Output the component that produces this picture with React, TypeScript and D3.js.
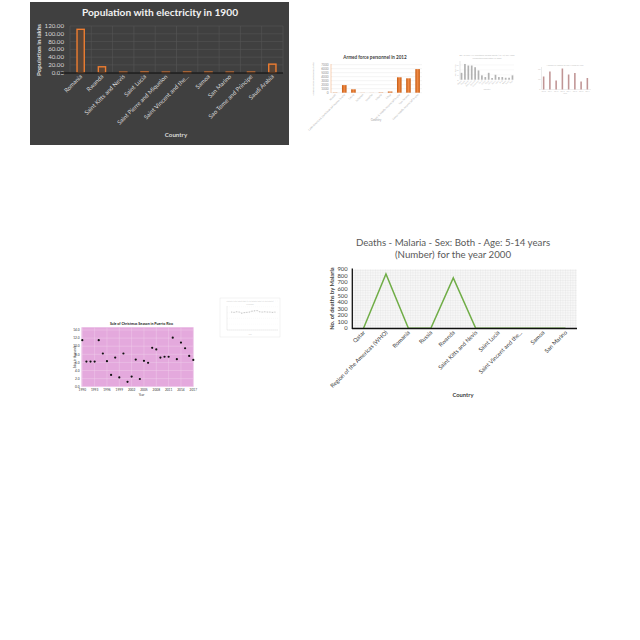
import React from "react";
import * as d3 from "d3";

const FONT = "Lato, 'Open Sans', sans-serif";

// --- population with electricity (dark chart)
const elecCountries = ["Romania", "Rwanda", "Saint Kitts and Nevis", "Saint Lucia", "Saint Pierre and Miquelon", "Saint Vincent and the...", "Samoa", "San Marino", "Sao Tome and Principe", "Saudi Arabia"];
const elecValues = [111.5, 15.2, 1.2, 1.6, 1.3, 1.5, 1.4, 1.3, 1.4, 22.0];
const elecTicks = [0, 20, 40, 60, 80, 100, 120];

// --- armed forces personnel
const armedCountries = ["Kuwait", "Latin America & Caribbean (all income levels)", "Latvia", "Lebanon", "Lesotho", "Liberia", "Libya", "Low & middle income (all levels)", "Low income", "Lower middle income (all levels)"];
const armedValues = [60, 1900, 850, 30, 20, 80, 300, 3850, 3600, 5900];
const armedTicks = [0, 1000, 2000, 3000, 4000, 5000, 6000, 7000];

// --- grey bar chart
const greyCountries = ["Algeria", "Angola", "Benin", "Botswana", "Burundi", "Cameroon", "Chad", "Congo", "Egypt", "Ghana", "Kenya", "Libya", "Mali", "Niger", "Sudan", "Togo"];
const greyValues = [7, 16, 14.4, 14.4, 12.7, 9.4, 4.4, 2.7, 7, 1.7, 5, 2.7, 2.7, 2, 2, 4.4];
const greyTicks = [0, 5, 10, 15];

// --- mauve bar chart
const mauveYears = ["2010", "2011", "2012", "2013", "2014", "2015", "2016", "2017"];
const mauveValues = [13, 18, 9, 21, 15, 16.5, 8, 11.5];
const mauveTicks = [0, 10, 20];

// --- scatter
const saleYears = [1990, 1991, 1992, 1993, 1994, 1995, 1996, 1997, 1998, 1999, 2000, 2001, 2002, 2003, 2004, 2005, 2006, 2007, 2008, 2009, 2010, 2011, 2012, 2013, 2014, 2015, 2016, 2017];
const saleValues = [11.5, 6.2, 6.2, 6.2, 11.5, 8.2, 6.3, 2.9, 7.2, 2.3, 8.2, 1.2, 2.5, 6.7, 1.9, 6.4, 5.9, 9.6, 9.2, 7.2, 7.4, 7.4, 12.1, 6.8, 10.9, 9.5, 7.6, 6.6];
const saleYTicks = [0, 2, 4, 6, 8, 10, 12, 14];
const saleXTicks = [1990, 1993, 1996, 1999, 2002, 2005, 2008, 2011, 2014, 2017];

// --- faint line chart
const faintYears = [1996, 1997, 1998, 1999, 2000, 2001, 2002, 2003, 2004, 2005, 2006, 2007, 2008, 2009, 2010, 2011, 2012, 2013];
const faintValues = [62, 61, 63, 62, 58, 60, 61, 62, 65, 66, 67, 63, 62, 63, 62, 62, 61, 62];

// --- malaria deaths
const malariaCountries = ["Qatar", "Region of the Americas (WHO)", "Romania", "Russia", "Rwanda", "Saint Kitts and Nevis", "Saint Lucia", "Saint Vincent and the...", "Samoa", "San Marino"];
const malariaValues = [0, 830, 0, 0, 770, 0, 0, 0, 0, 0];
const malariaTicks = [0, 100, 200, 300, 400, 500, 600, 700, 800, 900];

function ElectricityChart() {
  const x = d3.scaleBand().domain(elecCountries).range([70, 283]);
  const y = d3.scaleLinear().domain([0, 120]).range([72.7, 26]);
  const bw = x.bandwidth() * 0.34;
  return (
    <g fontFamily={FONT}>
      <rect x={30} y={2} width={259} height={143} fill="#404040" />
      <text x={160} y={16} textAnchor="middle" fill="#f2f2f2" fontSize={10.2} fontWeight="bold">Population with electricity in 1900</text>
      {elecTicks.map((t) => (
        <g key={t}>
          <line x1={70} x2={283} y1={y(t)} y2={y(t)} stroke="#555" strokeWidth={0.6} />
          <text x={64} y={y(t) + 2} textAnchor="end" fill="#d9d9d9" fontSize={6.2}>{t.toFixed(2)}</text>
        </g>
      ))}
      {elecCountries.map((c) => (
        <line key={c} x1={x(c)} x2={x(c)} y1={26} y2={72.7} stroke="#555" strokeWidth={0.6} />
      ))}
      <line x1={283} x2={283} y1={26} y2={72.7} stroke="#555" strokeWidth={0.6} />
      {elecCountries.map((c, i) => (
        <rect key={c} x={x(c)! + x.bandwidth() / 2 - bw / 2} y={y(elecValues[i])} width={bw} height={y(0) - y(elecValues[i])} fill="#5a4536" stroke="#ed7d31" strokeWidth={1.4} />
      ))}
      <line x1={60} x2={283} y1={73} y2={73} stroke="#1c1c1c" strokeWidth={1.5} />
      {elecCountries.map((c) => (
        <text key={c} transform={`translate(${x(c)! + x.bandwidth() / 2 + 2},${77}) rotate(-45)`} textAnchor="end" fill="#d9d9d9" fontSize={6}>{c}</text>
      ))}
      <text transform="translate(41,50) rotate(-90)" textAnchor="middle" fill="#d9d9d9" fontSize={6.2} fontWeight="bold">Population in lakhs</text>
      <text x={176} y={137} textAnchor="middle" fill="#d9d9d9" fontSize={6.2} fontWeight="bold">Country</text>
    </g>
  );
}

function ArmedChart() {
  const x = d3.scaleBand().domain(armedCountries).range([330.5, 422.2]).paddingInner(0.5).paddingOuter(0.25);
  const y = d3.scaleLinear().domain([0, 7000]).range([92.7, 64.7]);
  return (
    <g fontFamily={FONT}>
      <defs>
        <linearGradient id="orangeGrad" x1="0" x2="1" y1="0" y2="0">
          <stop offset="0" stopColor="#c55a11" />
          <stop offset="0.5" stopColor="#f08a45" />
          <stop offset="1" stopColor="#c55a11" />
        </linearGradient>
      </defs>
      <text x={375} y={58.5} textAnchor="middle" fill="#404040" fontSize={4.6} fontWeight="bold">Armed force personnel in 2012</text>
      {armedTicks.map((t) => (
        <g key={t}>
          <line x1={331} x2={422} y1={y(t)} y2={y(t)} stroke="#e3e3e3" strokeWidth={0.4} />
          <text x={328.5} y={y(t) + 1.1} textAnchor="end" fill="#8c8c8c" fontSize={3.1}>{t}</text>
        </g>
      ))}
      <line x1={331} x2={331} y1={64} y2={93} stroke="#f4b183" strokeWidth={0.6} />
      {armedCountries.map((c, i) => (
        <rect key={c} x={x(c)} y={y(armedValues[i])} width={x.bandwidth()} height={y(0) - y(armedValues[i])} fill="url(#orangeGrad)" />
      ))}
      {armedCountries.map((c) => (
        <text key={c} transform={`translate(${x(c)! + x.bandwidth() / 2 + 1},${95}) rotate(-45)`} textAnchor="end" fill="#a6a6a6" fontSize={2.6}>{c}</text>
      ))}
      <text transform="translate(314,79) rotate(-90)" textAnchor="middle" fill="#a6a6a6" fontSize={2.6}>Armed forces personnel, total</text>
      <text x={376} y={121} textAnchor="middle" fill="#a6a6a6" fontSize={3}>Country</text>
    </g>
  );
}

function GreyBarChart() {
  const x = d3.scaleBand().domain(greyCountries).range([460, 514]).paddingInner(0.5).paddingOuter(0.2);
  const y = d3.scaleLinear().domain([0, 18]).range([79.7, 62]);
  return (
    <g fontFamily={FONT}>
      <text x={487} y={55.5} textAnchor="middle" fill="#bfbfbf" fontSize={2.2}>No. of new HIV infections among adults (15-49) per 1000</text>
      <text x={487} y={58.5} textAnchor="middle" fill="#bfbfbf" fontSize={2.2}>uninfected population in 2005</text>
      {greyTicks.map((t) => (
        <g key={t}>
          <line x1={460} x2={514} y1={y(t)} y2={y(t)} stroke="#ececec" strokeWidth={0.3} />
          <text x={458.5} y={y(t) + 0.8} textAnchor="end" fill="#bfbfbf" fontSize={2.2}>{t}</text>
        </g>
      ))}
      <line x1={460} x2={460} y1={61} y2={79.7} stroke="#bfbfbf" strokeWidth={0.4} />
      {greyCountries.map((c, i) => (
        <rect key={c} x={x(c)} y={y(greyValues[i])} width={x.bandwidth()} height={y(0) - y(greyValues[i])} fill="#b3b3b3" />
      ))}
      {greyCountries.map((c) => (
        <text key={c} transform={`translate(${x(c)! + x.bandwidth() / 2 + 0.5},${81}) rotate(-45)`} textAnchor="end" fill="#bfbfbf" fontSize={1.9}>{c}</text>
      ))}
      <text transform="translate(455.5,71) rotate(-90)" textAnchor="middle" fill="#bfbfbf" fontSize={2}>New infections</text>
      <text x={487} y={89.5} textAnchor="middle" fill="#bfbfbf" fontSize={2}>Country</text>
    </g>
  );
}

function MauveBarChart() {
  const x = d3.scaleBand().domain(mauveYears).range([541, 590]).paddingInner(0.75).paddingOuter(0.3);
  const y = d3.scaleLinear().domain([0, 22]).range([89.5, 67.5]);
  return (
    <g fontFamily={FONT}>
      <text x={565} y={66} textAnchor="middle" fill="#bfbfbf" fontSize={2.1}>Number of visitors to San Marino by year</text>
      {mauveTicks.map((t) => (
        <text key={t} x={540.5} y={y(t) + 0.8} textAnchor="end" fill="#c8c8c8" fontSize={2.1}>{t}</text>
      ))}
      <line x1={541.5} x2={541.5} y1={67} y2={89.5} stroke="#d0d0d0" strokeWidth={0.4} />
      <line x1={541.5} x2={591} y1={89.5} y2={89.5} stroke="#d8d8d8" strokeWidth={0.4} />
      {mauveYears.map((c, i) => (
        <rect key={c} x={x(c)} y={y(mauveValues[i])} width={x.bandwidth()} height={y(0) - y(mauveValues[i])} fill="#c09595" />
      ))}
      {mauveYears.map((c) => (
        <text key={c} x={x(c)! + x.bandwidth() / 2} y={91.5} textAnchor="middle" fill="#c8c8c8" fontSize={1.9}>{c}</text>
      ))}
      <text x={565} y={94} textAnchor="middle" fill="#bfbfbf" fontSize={2.1}>Year</text>
    </g>
  );
}

function SaleScatter() {
  const x = d3.scaleLinear().domain([1990, 2017]).range([82.3, 193.3]);
  const y = d3.scaleLinear().domain([0, 14]).range([386.7, 330]);
  return (
    <g fontFamily={FONT}>
      <text x={141.5} y={325} textAnchor="middle" fill="#222" fontSize={3.6} fontWeight="bold">Sale of Christmas Season in Puerto Rico</text>
      <rect x={81.5} y={327.3} width={112} height={59.4} fill="#e4a9dd" />
      {saleYTicks.map((t) => (
        <g key={t}>
          <line x1={81.5} x2={193.5} y1={y(t)} y2={y(t)} stroke="#f2d4ee" strokeWidth={0.4} />
          <text x={79.5} y={y(t) + 1.2} textAnchor="end" fill="#333" fontSize={3.2}>{t.toFixed(1)}</text>
        </g>
      ))}
      {saleXTicks.map((t) => (
        <g key={t}>
          <line x1={x(t)} x2={x(t)} y1={327.3} y2={386.7} stroke="#f2d4ee" strokeWidth={0.4} />
          <text x={x(t)} y={391} textAnchor="middle" fill="#333" fontSize={3.2}>{t}</text>
        </g>
      ))}
      {saleYears.map((yr, i) => (
        <circle key={yr} cx={x(yr)} cy={y(saleValues[i])} r={1.1} fill="#111" />
      ))}
      <text transform="translate(76,357) rotate(-90)" textAnchor="middle" fill="#333" fontSize={2.8}>Sales in thousands</text>
      <text x={141.5} y={396} textAnchor="middle" fill="#333" fontSize={3}>Year</text>
    </g>
  );
}

function FaintLineChart() {
  const x = d3.scaleLinear().domain([1996, 2013]).range([231.5, 275]);
  const y = d3.scaleLinear().domain([0, 100]).range([330, 301]);
  const line = d3.line<number>().x((_, i) => x(faintYears[i])).y((d) => y(d));
  return (
    <g fontFamily={FONT}>
      <rect x={220} y={298} width={60} height={39} fill="#fff" stroke="#e6e6e6" strokeWidth={0.5} />
      <text x={250} y={302} textAnchor="middle" fill="#cfcfcf" fontSize={1.9}>Literacy rate, adult total (% of people ages 15 and above)</text>
      <text x={250} y={304.5} textAnchor="middle" fill="#cfcfcf" fontSize={1.9}>in Samoa</text>
      {[0, 20, 40, 60, 80, 100].map((t) => (
        <line key={t} x1={227} x2={278} y1={y(t)} y2={y(t)} stroke="#f0f0f0" strokeWidth={0.3} strokeDasharray="1 1" />
      ))}
      <line x1={227} x2={227} y1={306} y2={330} stroke="#d6d6d6" strokeWidth={0.4} />
      <line x1={227} x2={278} y1={330} y2={330} stroke="#d6d6d6" strokeWidth={0.4} />
      <path d={line(faintValues) ?? ""} fill="none" stroke="#d9d9d9" strokeWidth={0.4} />
      {faintValues.map((v, i) => (
        <circle key={i} cx={x(faintYears[i])} cy={y(v)} r={0.6} fill="#c4c4c4" />
      ))}
      <text x={250} y={335} textAnchor="middle" fill="#d0d0d0" fontSize={1.9}>Year</text>
    </g>
  );
}

function MalariaChart() {
  const x = d3.scaleBand().domain(malariaCountries).range([352.3, 576.7]);
  const y = d3.scaleLinear().domain([0, 900]).range([328.3, 269.3]);
  const line = d3.line<number>().x((_, i) => x(malariaCountries[i])! + x.bandwidth() / 2).y((d) => y(d));
  return (
    <g fontFamily={FONT}>
      <defs>
        <pattern id="smallGrid" width={2.5} height={2.5} patternUnits="userSpaceOnUse">
          <rect width={2.5} height={2.5} fill="#f7f7f7" />
          <path d="M2.5 0 L0 0 0 2.5" fill="none" stroke="#d9d9d9" strokeWidth={0.45} />
        </pattern>
      </defs>
      <text x={453} y={246} textAnchor="middle" fill="#595959" fontSize={9.7}>Deaths - Malaria - Sex: Both - Age: 5-14 years</text>
      <text x={453} y={258} textAnchor="middle" fill="#595959" fontSize={9.7}>(Number) for the year 2000</text>
      <rect x={352.3} y={269.3} width={224.4} height={59} fill="url(#smallGrid)" />
      {malariaTicks.map((t) => (
        <text key={t} x={347.5} y={y(t) + 2} textAnchor="end" fill="#404040" fontSize={5.8}>{t}</text>
      ))}
      <path d={line(malariaValues) ?? ""} fill="none" stroke="#70ad47" strokeWidth={1.5} />
      <line x1={352.3} x2={352.3} y1={268.5} y2={329} stroke="#111" strokeWidth={1.3} />
      <line x1={352} x2={577} y1={328.5} y2={328.5} stroke="#111" strokeWidth={1.3} />
      {malariaCountries.map((c) => (
        <text key={c} transform={`translate(${x(c)! + x.bandwidth() / 2 + 2},${333}) rotate(-45)`} textAnchor="end" fill="#404040" fontSize={5.8}>{c}</text>
      ))}
      <text transform="translate(334,298.5) rotate(-90)" textAnchor="middle" fill="#404040" fontSize={5.8} fontWeight="bold">No. of deaths by Malaria</text>
      <text x={463} y={397} textAnchor="middle" fill="#404040" fontSize={5.8} fontWeight="bold">Country</text>
    </g>
  );
}

export default function App() {
  return (
    <svg width={640} height={640} style={{ position: "absolute", left: 0, top: 0, background: "#fff" }}>
      <ElectricityChart />
      <ArmedChart />
      <GreyBarChart />
      <MauveBarChart />
      <SaleScatter />
      <FaintLineChart />
      <MalariaChart />
    </svg>
  );
}
